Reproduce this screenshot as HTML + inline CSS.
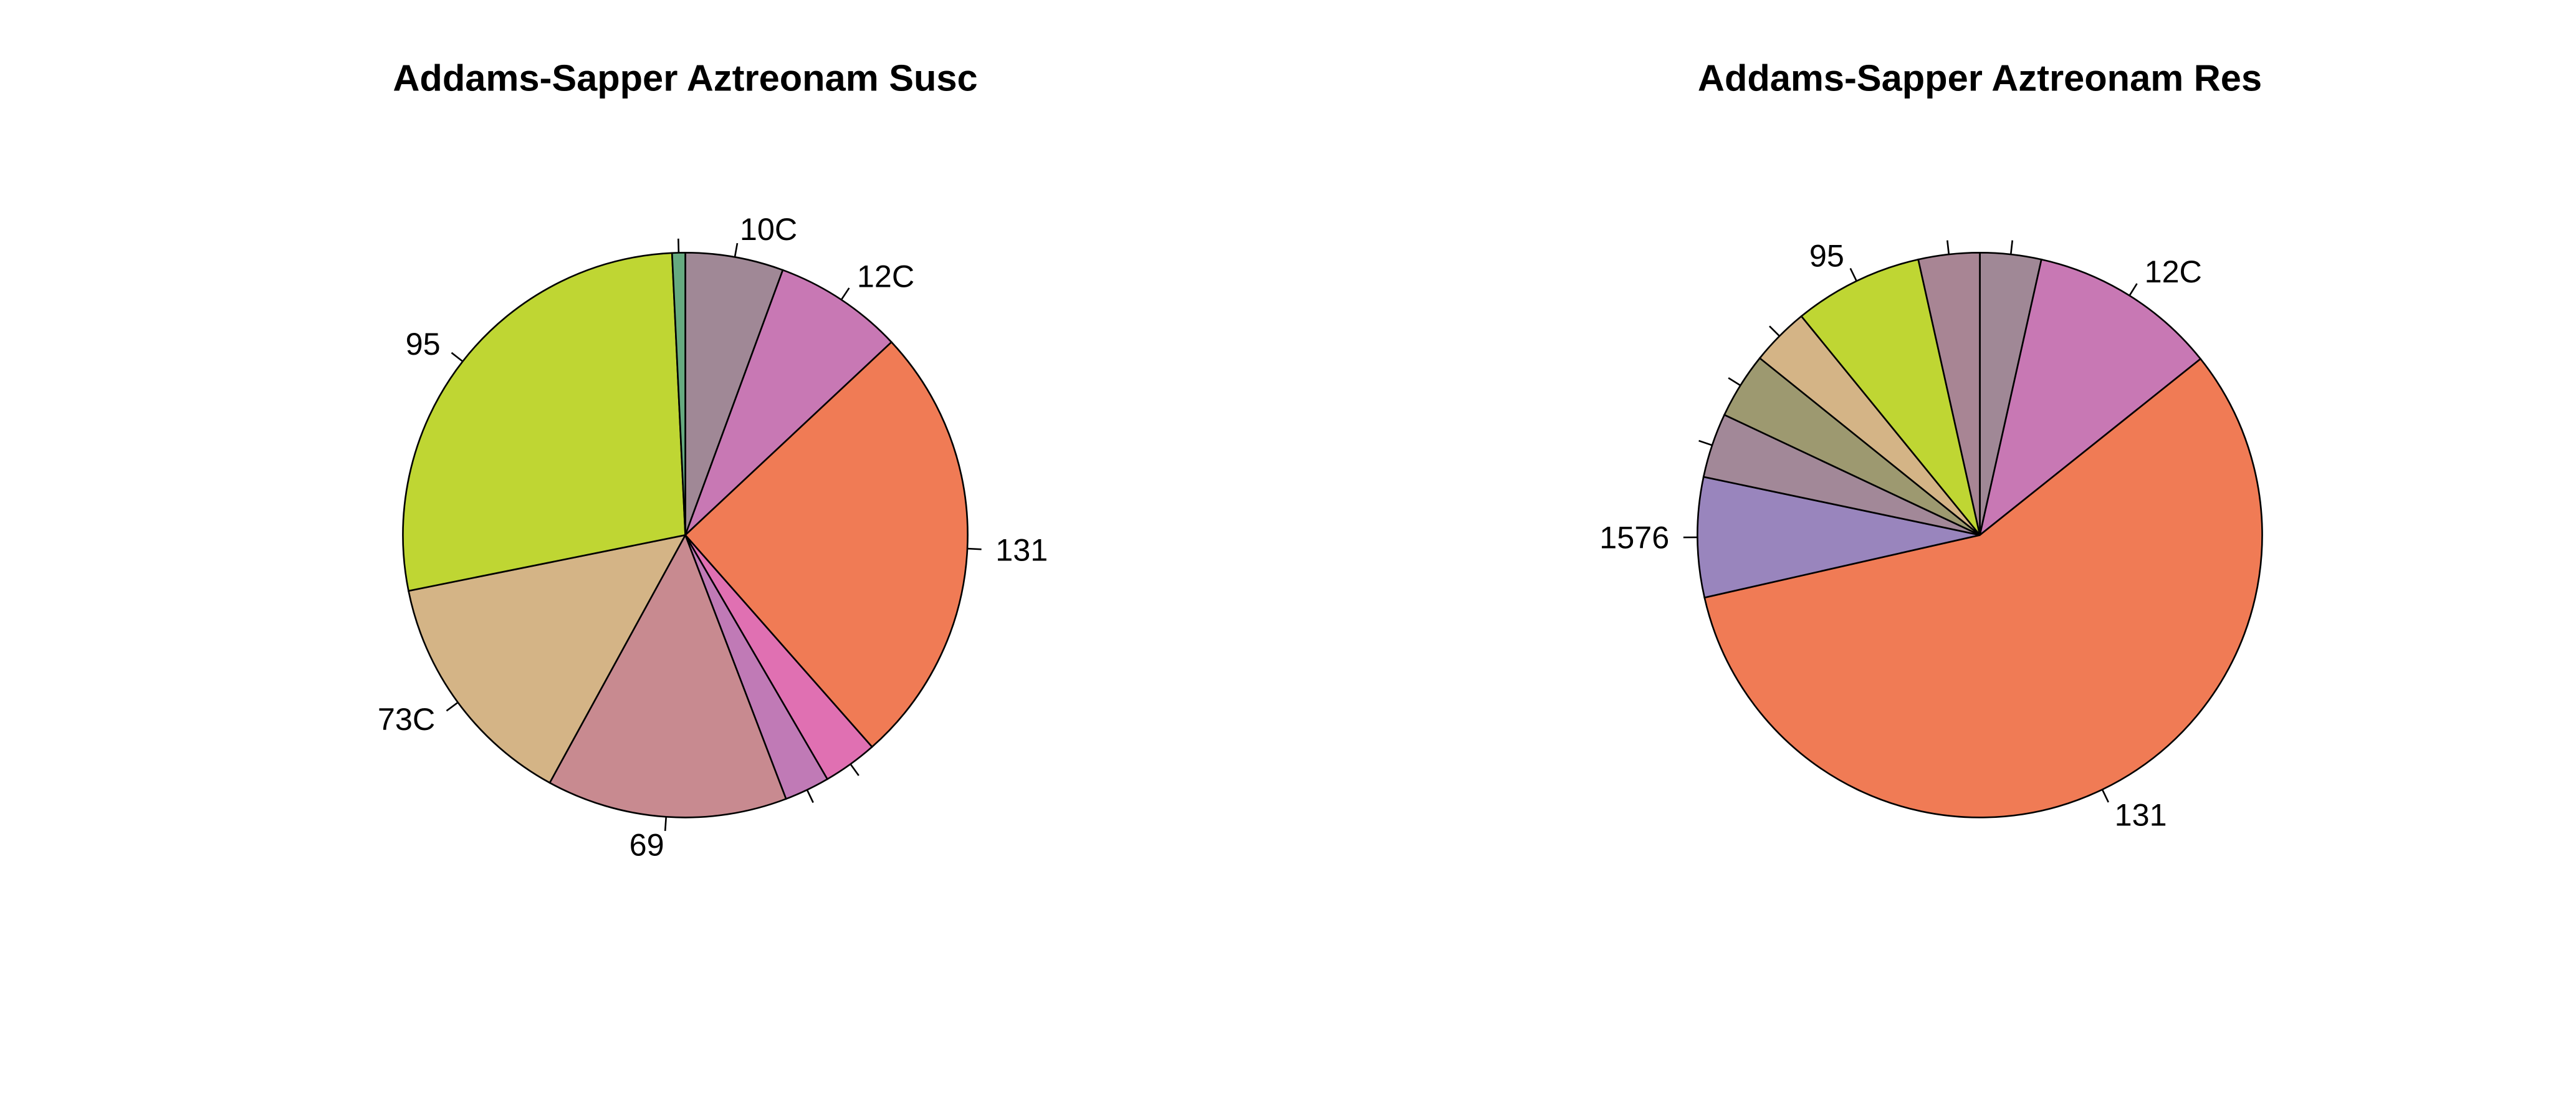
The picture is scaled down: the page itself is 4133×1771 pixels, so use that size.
<!DOCTYPE html>
<html><head><meta charset="utf-8"><style>
html,body{margin:0;padding:0;background:#fff;}
svg{display:block;}
text{font-family:"Liberation Sans",Arial,sans-serif;}
</style></head><body>
<svg id="chart" width="4133" height="1771" viewBox="0 0 1560 668.5" xmlns="http://www.w3.org/2000/svg">
<rect width="1560" height="668.5" fill="#fff"/>
<text x="415" y="55" text-anchor="middle" font-size="22.5" font-weight="bold">Addams-Sapper Aztreonam Susc</text>
<text x="1199" y="55" text-anchor="middle" font-size="22.5" font-weight="bold">Addams-Sapper Aztreonam Res</text>
<g id="left"></g>
<g id="right"></g>
</svg>
<script>
const suscLabels = ["10C","12C","131","","","69","73C","95",""];
const suscValues = [20.2,26.7,91.7,11.2,9.3,49.6,49.9,98.7,2.7];
const suscColors = ["#A08896","#C878B4","#F07B55","#E070B2","#C07AB6","#C88A90","#D4B486","#BFD633","#66AA80"];
const resLabels = ["","12C","131","1576","","","","95",""];
const resValues = [12.6,38.8,205.8,24.7,13.3,13.6,12.0,26.6,12.6];
const resColors = ["#A08896","#C878B4","#F07B55","#9985BD","#A28898","#9D9970","#D4B486","#BFD633","#A88594"];

const NS="http://www.w3.org/2000/svg";
function drawPie(gid, cx, cy, r, labels, values, colors){
  const g=document.getElementById(gid);
  const total=values.reduce((a,b)=>a+b,0);
  let acc=0;
  const pt=(ang,rr)=>[cx+rr*Math.sin(ang), cy-rr*Math.cos(ang)];
  values.forEach((v,i)=>{
    const a0=acc/total*2*Math.PI; acc+=v; const a1=acc/total*2*Math.PI;
    const p0=pt(a0,r), p1=pt(a1,r);
    const large=(a1-a0)>Math.PI?1:0;
    const path=document.createElementNS(NS,"path");
    path.setAttribute("d",`M${cx},${cy} L${p0[0]},${p0[1]} A${r},${r} 0 ${large} 1 ${p1[0]},${p1[1]} Z`);
    path.setAttribute("fill",colors[i]); path.setAttribute("stroke","#000"); path.setAttribute("stroke-width","1");
    
    
    g.appendChild(path);
    const am=(a0+a1)/2;
    const t0=pt(am,r), t1=pt(am,r*1.05);
    const tick=document.createElementNS(NS,"line");
    tick.setAttribute("x1",t0[0]);tick.setAttribute("y1",t0[1]);tick.setAttribute("x2",t1[0]);tick.setAttribute("y2",t1[1]);
    tick.setAttribute("stroke","#000");tick.setAttribute("stroke-width","1");
    
    
    g.appendChild(tick);
    if(labels[i]){
      const lp=pt(am,r*1.1);
      const t=document.createElementNS(NS,"text");
      t.setAttribute("x",lp[0]); t.setAttribute("y",lp[1]+6.5);
      t.setAttribute("font-size","19");
      t.setAttribute("text-anchor", Math.sin(am)>=0?"start":"end");
      t.textContent=labels[i];
      
      
      g.appendChild(t);
    }
  });
}
drawPie("left",415,324,171,suscLabels,suscValues,suscColors);
drawPie("right",1199,324,171,resLabels,resValues,resColors);
</script>
</body></html>
